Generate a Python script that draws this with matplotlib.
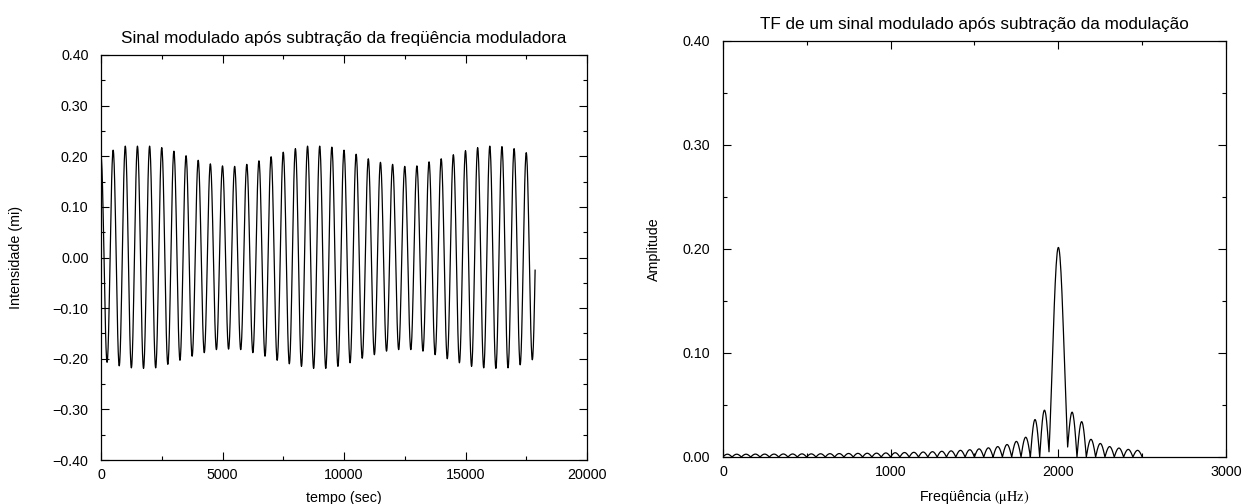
import numpy as np
import matplotlib.pyplot as plt
from matplotlib.ticker import MultipleLocator

# ---- left panel: extrema of the modulated signal ----
period = 500.0          # sec, one carrier cycle
t_end = 17870.0         # last sample of the series
# maxima at t = k*period, k = 0..35
peaks = [0.200, 0.212, 0.220, 0.220, 0.220, 0.217, 0.210, 0.201, 0.192, 0.185,
         0.181, 0.180, 0.184, 0.191, 0.199, 0.208, 0.215, 0.220, 0.220, 0.218,
         0.212, 0.204, 0.195, 0.188, 0.184, 0.180, 0.181, 0.189, 0.195, 0.203,
         0.211, 0.217, 0.220, 0.219, 0.215, 0.207, 0.205]
# minima at t = (k + 0.5)*period
troughs = [-0.207, -0.214, -0.218, -0.219, -0.218, -0.211, -0.203, -0.195, -0.188, -0.182,
           -0.181, -0.182, -0.188, -0.195, -0.203, -0.210, -0.215, -0.219, -0.219, -0.215,
           -0.208, -0.199, -0.192, -0.185, -0.182, -0.182, -0.185, -0.192, -0.200, -0.208,
           -0.215, -0.218, -0.219, -0.218, -0.212, -0.202]

# ---- right panel: lobes of the amplitude spectrum ----
f_center = 2000.0       # muHz
lobe_width = 55.6       # muHz between zeros
main_height = 0.2016
left_lobes = [0.045, 0.036, 0.019, 0.015, 0.012, 0.0100, 0.0088, 0.0078, 0.0070, 0.0064,
              0.0059, 0.0055, 0.0051, 0.0048, 0.0045, 0.0043, 0.0041, 0.0039, 0.0037, 0.0036,
              0.0035, 0.0034, 0.0033, 0.0032, 0.0031, 0.0030, 0.0030, 0.0029, 0.0029, 0.0028,
              0.0028, 0.0028, 0.0027, 0.0027, 0.0027]
right_lobes = [0.043, 0.034, 0.017, 0.013, 0.010, 0.0086, 0.0073, 0.0064]
valley_left_main = 0.005
valley_right_main = 0.0096


def signal_curve():
    n = len(troughs)
    t_ext, y_ext = [], []
    for k in range(n):
        t_ext += [k * period, (k + 0.5) * period]
        y_ext += [peaks[k], troughs[k]]
    t_ext.append(n * period)
    y_ext.append(peaks[n])
    ts, ys = [], []
    for i in range(len(t_ext) - 1):
        # half cosine between two neighbouring extrema
        u = np.linspace(0, 1, 25)
        a, b = y_ext[i], y_ext[i + 1]
        ts.append(t_ext[i] + u * (t_ext[i + 1] - t_ext[i]))
        ys.append((a + b) / 2 + (a - b) / 2 * np.cos(np.pi * u))
    ts = np.concatenate(ts)
    ys = np.concatenate(ys)
    keep = ts <= t_end
    return ts[keep], ys[keep]


def lobe(f0, f1, h, v0=0.0, v1=0.0, main=False):
    u = np.linspace(0, 1, 40)
    base = v0 + (v1 - v0) * u
    if main:
        shape = np.sinc(2 * u - 1)
    else:
        shape = np.sin(np.pi * u)
    return f0 + u * (f1 - f0), base + (h - (v0 + v1) / 2) * shape


def spectrum_curve():
    fs, amps = [], []
    for i in range(len(left_lobes), 0, -1):
        v1 = valley_left_main if i == 1 else 0.0
        f, a = lobe(f_center - (i + 1) * lobe_width, f_center - i * lobe_width,
                    left_lobes[i - 1], 0.0, v1)
        fs.append(f); amps.append(a)
    f, a = lobe(f_center - lobe_width, f_center + lobe_width, main_height,
                valley_left_main, valley_right_main, main=True)
    fs.append(f); amps.append(a)
    for i in range(1, len(right_lobes) + 1):
        v0 = valley_right_main if i == 1 else 0.0
        f, a = lobe(f_center + i * lobe_width, f_center + (i + 1) * lobe_width,
                    right_lobes[i - 1], v0, 0.0)
        fs.append(f); amps.append(a)
    fs = np.concatenate(fs)
    amps = np.concatenate(amps)
    keep = fs >= 0
    return fs[keep], amps[keep]


plt.rcParams['font.family'] = ['Liberation Sans', 'DejaVu Sans']
plt.rcParams['mathtext.fontset'] = 'stix'
plt.rcParams['font.size'] = 10.3

fig = plt.figure(figsize=(12.47, 5.04), dpi=100)
W, H = 1247.0, 504.0


def box(x0, x1, ytop, ybot):
    return [x0 / W, 1 - ybot / H, (x1 - x0) / W, (ybot - ytop) / H]


# the two panels do not sit at the same height in the original
ax1 = fig.add_axes(box(101, 587, 55, 460))
ax2 = fig.add_axes(box(723, 1226, 41, 457))

t, y = signal_curve()
ax1.plot(t, y, color='black', lw=0.9)
ax1.set_xlim(0, 20000)
ax1.set_ylim(-0.4, 0.4)
ax1.xaxis.set_major_locator(MultipleLocator(5000))
ax1.xaxis.set_minor_locator(MultipleLocator(2500))
ax1.yaxis.set_major_locator(MultipleLocator(0.1))
ax1.yaxis.set_minor_locator(MultipleLocator(0.05))
ax1.yaxis.set_major_formatter(lambda v, p: f'{v:.2f}'.replace('-', '\u2212'))
ax1.set_title('Sinal modulado após subtração da freqüência moduladora', pad=9)
ax1.set_xlabel('tempo (sec)', labelpad=6)
ax1.set_ylabel('Intensidade (mi)', labelpad=21)

f, a = spectrum_curve()
ax2.plot(f, a, color='black', lw=0.9)
ax2.set_xlim(0, 3000)
ax2.set_ylim(0, 0.4)
ax2.xaxis.set_major_locator(MultipleLocator(1000))
ax2.xaxis.set_minor_locator(MultipleLocator(500))
ax2.yaxis.set_major_locator(MultipleLocator(0.1))
ax2.yaxis.set_minor_locator(MultipleLocator(0.05))
ax2.yaxis.set_major_formatter(lambda v, p: f'{v:.2f}')
ax2.set_title('TF de um sinal modulado após subtração da modulação', pad=9)
ax2.set_xlabel('Freqüência ' + r'$(\mathrm{\mu Hz})$', labelpad=6)
ax2.set_ylabel('Amplitude', labelpad=16)

for ax in (ax1, ax2):
    ax.tick_params(which='both', direction='in', top=True, right=True, width=0.8)
    ax.tick_params(which='major', length=6)
    ax.tick_params(which='minor', length=3)
    ax.tick_params(axis='y', which='major', pad=9)
    ax.tick_params(axis='x', which='major', pad=6)
    for s in ax.spines.values():
        s.set_linewidth(0.9)

fig.savefig('out.png', dpi=100)
